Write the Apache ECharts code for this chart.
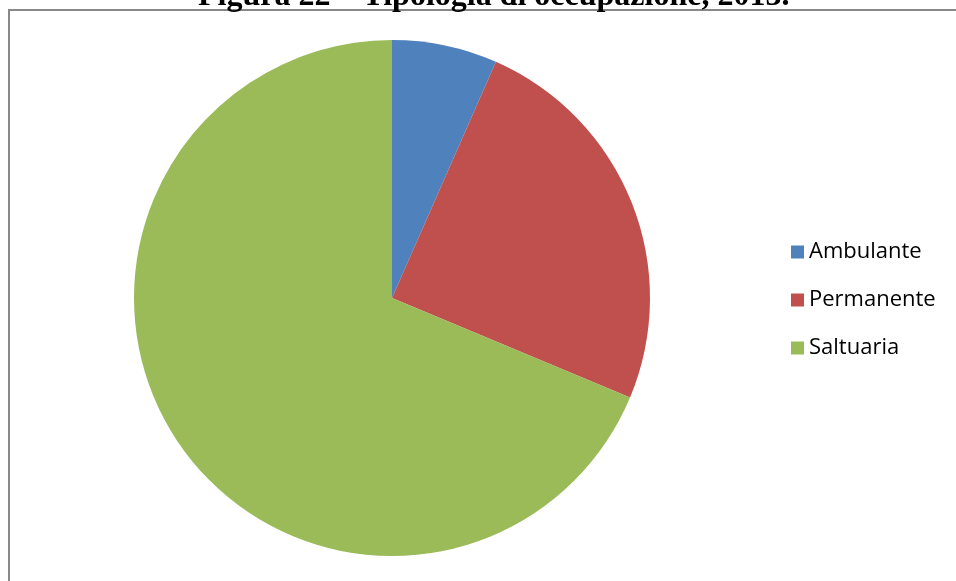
<!DOCTYPE html>
<html lang="it">
<head>
    <meta charset="UTF-8">
    <script src="https://cdn.jsdelivr.net/npm/echarts@6/dist/echarts.min.js"></script>
    <title>Tipologia di occupazione</title>
    <style>
        html, body { margin: 0; padding: 0; background: #fff; }
        #main { width: 956px; height: 581px; }
    </style>
</head>
<body>
<div id="main"></div>
<script>
    var categories = ['Ambulante', 'Permanente', 'Saltuaria'];
    var values = [6.6, 24.7, 68.7];
    var colors = ['#4F81BD', '#C0504D', '#9BBB59'];

    var pieData = categories.map(function (name, i) {
        return { name: name, value: values[i], itemStyle: { color: colors[i] } };
    });

    var myChart = echarts.init(document.getElementById('main'));
    var option = {
        animation: false,
        title: {
            text: 'Figura 22 – Tipologia di occupazione, 2013.',
            left: 198,
            top: -19,
            padding: 0,
            textStyle: {
                fontFamily: '"Liberation Serif", "Times New Roman", serif',
                fontWeight: 'bold',
                fontSize: 32,
                color: '#000'
            }
        },
        graphic: [{
            type: 'rect',
            shape: { x: 9, y: 10, width: 1000, height: 600 },
            style: { fill: 'none', stroke: '#888', lineWidth: 2 },
            z: -1
        }],
        legend: {
            orient: 'vertical',
            left: 786,
            top: 236,
            itemWidth: 13,
            itemHeight: 13,
            itemGap: 26,
            icon: 'rect',
            textStyle: {
                fontFamily: 'Open Sans',
                fontSize: 22,
                color: '#000'
            },
            data: categories
        },
        series: [{
            type: 'pie',
            center: [392, 298],
            radius: 258,
            startAngle: 90,
            clockwise: true,
            label: { show: false },
            labelLine: { show: false },
            itemStyle: { borderWidth: 0 },
            emphasis: { disabled: true },
            data: pieData
        }]
    };
    myChart.setOption(option);
</script>
</body>
</html>
